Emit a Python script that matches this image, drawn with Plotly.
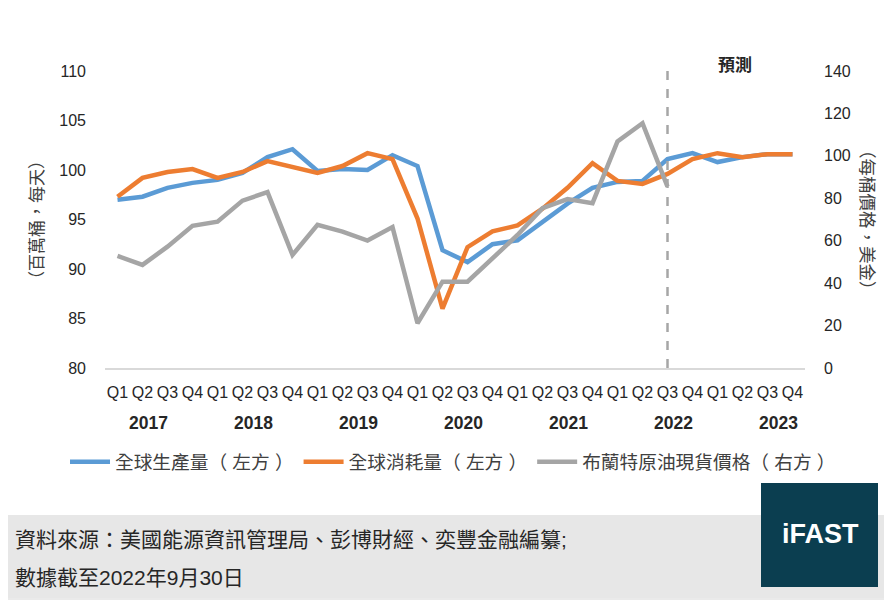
import plotly.graph_objects as go

# Quarterly data, Q1 2017 - Q4 2023 (forecast from Q3 2022)
quarters = ["Q1", "Q2", "Q3", "Q4"] * 7
years = ["2017", "2018", "2019", "2020", "2021", "2022", "2023"]

production = [97.0, 97.3, 98.2, 98.7, 99.0, 99.7, 101.3, 102.1, 99.9, 100.1, 100.0, 101.5, 100.4, 91.9,
              90.7, 92.5, 92.9, 94.8, 96.6, 98.2, 98.8, 98.9, 101.1, 101.7, 100.8, 101.3, 101.6, 101.6]
consumption = [97.3, 99.2, 99.8, 100.1, 99.2, 99.8, 100.9, 100.3, 99.7, 100.4, 101.7, 101.1, 95.1, 86.0,
               92.2, 93.8, 94.4, 96.1, 98.2, 100.7, 98.9, 98.6, 99.6, 101.1, 101.7, 101.3, 101.6, 101.6]
brent = [52.8, 48.6, 57.2, 67.0, 69.0, 78.9, 82.9, 53.3, 67.5, 64.3, 60.1, 66.4, 21.1, 40.7,
         40.7, 51.7, 62.7, 75.3, 79.6, 77.7, 106.8, 115.4, 85.5]

forecast_start = 22  # Q3 2022

# page puts the figure 8px in from the top-left corner
OFF = 8
W, H = 892, 608
L, R, T, B = 97, 95, 63, 248


def px(xp):
    return (xp - OFF - L) / (W - L - R)


def py(yp):
    return (H - B - (yp - OFF)) / (H - B - T)


idx = list(range(len(quarters)))
cjk = "Liberation Sans, Noto Sans CJK TC"


def note(x, y, text, size, color="#262626", **kw):
    fig.add_annotation(x=px(x), y=py(y), xref="paper", yref="paper", text=text, showarrow=False,
                       xanchor=kw.pop("xanchor", "center"), yanchor="middle",
                       font=dict(size=size, color=color, family=kw.pop("family", cjk)), **kw)


fig = go.Figure()
fig.add_trace(go.Scatter(x=idx, y=production, mode="lines", name="全球生產量（ 左方 ）",
                         line=dict(color="#5b9bd5", width=4.5)))
fig.add_trace(go.Scatter(x=idx, y=consumption, mode="lines", name="全球消耗量（ 左方 ）",
                         line=dict(color="#ed7d31", width=4.5)))
fig.add_trace(go.Scatter(x=idx[:len(brent)], y=brent, mode="lines", name="布蘭特原油現貨價格（ 右方 ）",
                         line=dict(color="#a5a5a5", width=4.5), yaxis="y2"))

# forecast divider
fig.add_shape(type="line", xref="x", yref="paper", x0=forecast_start, x1=forecast_start,
              y0=0, y1=py(64), line=dict(color="#a6a6a6", width=2.5, dash="dash"))
note(735, 66, "<b>預測</b>", 17)

# year labels under the quarters (spread a little wider than the quarters, as in the original)
yr_first, yr_last = 1.24, 26.44
for i, yr in enumerate(years):
    fig.add_annotation(x=yr_first + i * (yr_last - yr_first) / (len(years) - 1), y=py(423),
                       xref="x", yref="paper", text=f"<b>{yr}</b>",
                       showarrow=False, xanchor="center", yanchor="middle",
                       font=dict(size=17.5, color="#262626"))

# axis titles
note(37, 220, "（百萬桶，每天）", 17, "#404040", textangle=-90)
note(867, 220, "（每桶價格，美金）", 17.5, "#404040", textangle=90)

# outer border, footer band and logo
fig.add_shape(type="rect", xref="paper", yref="paper", x0=px(2), x1=px(888), y0=py(2), y1=py(599),
              line=dict(color="#e3e3e3", width=1.5), layer="below")
fig.add_shape(type="rect", xref="paper", yref="paper", x0=px(2), x1=px(888), y0=py(515), y1=py(598),
              line=dict(width=0), fillcolor="#e7e7e7", layer="below")
fig.add_shape(type="rect", xref="paper", yref="paper", x0=px(761), x1=px(878), y0=py(483), y1=py(587),
              line=dict(width=0), fillcolor="#0b3e50")
note(820, 534, "<b>iFAST</b>", 27, "white", family="Liberation Sans")

note(13, 539, "資料來源：美國能源資訊管理局、彭博財經、奕豐金融編纂;", 21, xanchor="left")
note(13, 577, "數據截至2022年9月30日", 21, xanchor="left")

fig.update_layout(
    width=W, height=H,
    margin=dict(l=L, r=R, t=T, b=B),
    paper_bgcolor="white", plot_bgcolor="white",
    font=dict(family=cjk, color="#262626"),
    showlegend=True,
    legend=dict(orientation="h", x=px(65), y=py(462), xanchor="left", yanchor="middle",
                font=dict(size=18.7, color="#404040"), itemwidth=40,
                bgcolor="rgba(0,0,0,0)"),
    xaxis=dict(range=[-0.5, 27.5], tickvals=idx, ticktext=quarters, showgrid=False,
               showline=True, linecolor="#d9d9d9", linewidth=1.5, ticks="",
               tickfont=dict(size=16, color="#262626"), ticklabelstandoff=9, zeroline=False),
    yaxis=dict(range=[80, 110], dtick=5, showgrid=False, zeroline=False, showline=False,
               tickfont=dict(size=16, color="#262626"), ticklabelstandoff=18),
    yaxis2=dict(range=[0, 140], dtick=20, overlaying="y", side="right", showgrid=False,
                zeroline=False, showline=False, tickfont=dict(size=16, color="#262626"),
                ticklabelstandoff=18),
)

fig.write_html("out.html")
